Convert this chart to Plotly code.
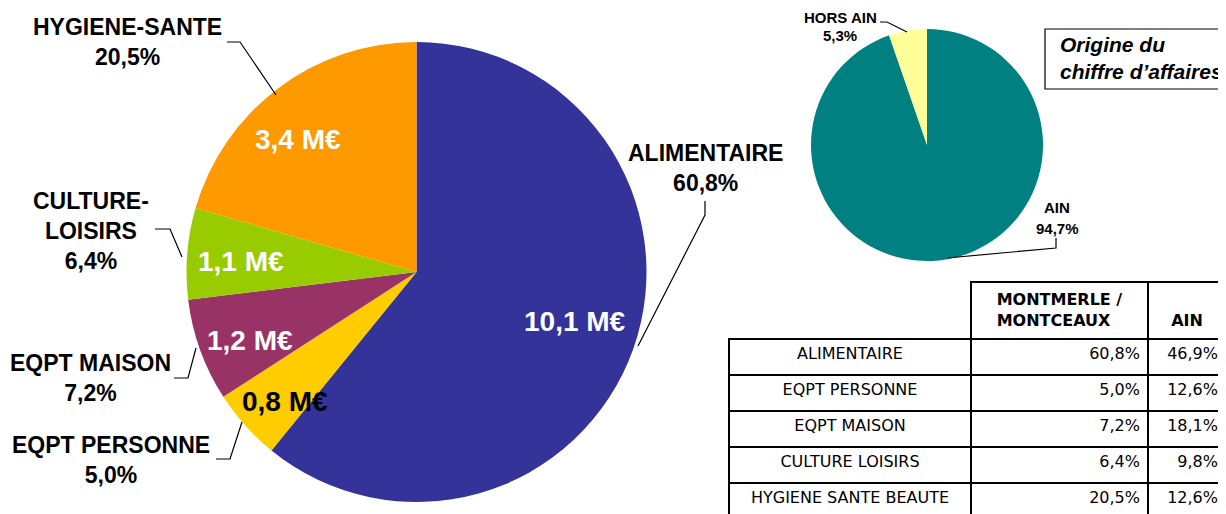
import plotly.graph_objects as go

# The page adds an 8 px body margin, so the figure is drawn 8 px smaller
# and all reference-pixel positions are shifted by OFF.
OFF = 8
W, H = 1226 - OFF, 514 - OFF

# ---------------- data ----------------
categories = ["ALIMENTAIRE", "EQPT PERSONNE", "EQPT MAISON", "CULTURE-LOISIRS", "HYGIENE-SANTE"]
outer_names = ["ALIMENTAIRE", "EQPT PERSONNE", "EQPT MAISON", "CULTURE-<br>LOISIRS", "HYGIENE-SANTE"]
shares = [60.8, 5.0, 7.2, 6.4, 20.5]
amounts_meur = [10.1, 0.8, 1.2, 1.1, 3.4]

origin_labels = ["AIN", "HORS AIN"]
origin_shares = [94.7, 5.3]

table_rows = ["ALIMENTAIRE", "EQPT PERSONNE", "EQPT MAISON", "CULTURE LOISIRS", "HYGIENE SANTE BEAUTE"]
table_local = [60.8, 5.0, 7.2, 6.4, 20.5]
table_ain = [46.9, 12.6, 18.1, 9.8, 12.6]
table_headers = ["", "<b>MONTMERLE /<br>MONTCEAUX</b>", "\u00a0<br><b>AIN</b>"]

box_title = "Origine du<br>chiffre d’affaires"

# ---------------- styles ----------------
slice_colors = ["#333399", "#FFCC00", "#993366", "#99CC00", "#FF9900"]
amount_font_colors = ["white", "black", "white", "white", "white"]
origin_colors = ["#008080", "#FFFF99"]

# label placement (pixel positions in the reference picture)
outer_pos = [(705, 168), (111, 460), (90, 378), (91, 231), (127, 42)]
inner_pos = [(575, 321), (285, 401), (250, 340), (241, 261), (298, 139)]
leaders = [
    [(705, 201), (705, 215), (638, 346)],
    [(216, 459), (230, 459), (242, 422)],
    [(174, 378), (188, 378), (196, 348)],
    [(155, 229), (170, 229), (182, 257)],
    [(227, 42), (240, 42), (276, 95)],
]
# (x, name line y, percent line y)
origin_pos = [(1057, 208, 229), (840, 18, 35)]
origin_leaders = [
    [(1056, 238), (1056, 248), (947, 258)],
    [(880, 22), (887, 22), (907, 32)],
]


def px(x):
    return (x - OFF) / W


def py(y):
    return 1 - (y - OFF) / H


def fr(v, d=1):
    return f"{v:.{d}f}".replace(".", ",")


def path(pts):
    s = "M {} {}".format(px(pts[0][0]), py(pts[0][1]))
    for x, y in pts[1:]:
        s += " L {} {}".format(px(x), py(y))
    return s


LBL_FONT = "Liberation Sans, Arial, sans-serif"
BODY_FONT = "DejaVu Sans, Verdana, sans-serif"

fig = go.Figure()

# main pie
cx, cy, r = 416.5, 272, 230
fig.add_trace(go.Pie(
    labels=categories, values=shares, sort=False, direction="clockwise", rotation=0,
    marker=dict(colors=slice_colors, line=dict(width=0)),
    textinfo="none", hoverinfo="skip", showlegend=False,
    domain=dict(x=[px(cx - r), px(cx + r)], y=[py(cy + r), py(cy - r)]),
))

# origin pie
ocx, ocy, orr = 927, 145, 116
fig.add_trace(go.Pie(
    labels=origin_labels, values=origin_shares, sort=False, direction="clockwise", rotation=0,
    marker=dict(colors=origin_colors, line=dict(width=0)),
    textinfo="none", hoverinfo="skip", showlegend=False,
    domain=dict(x=[px(ocx - orr), px(ocx + orr)], y=[py(ocy + orr), py(ocy - orr)]),
))

# table
fig.add_trace(go.Table(
    domain=dict(x=[px(729), 1.0], y=[0.0, py(282)]),
    columnwidth=[242, 177, 78],
    header=dict(
        values=table_headers,
        align=["center", "center", "center"],
        fill=dict(color="white"),
        line=dict(color=["white", "black", "black"], width=2),
        font=dict(family=BODY_FONT, size=16, color="black"),
        height=57,
    ),
    cells=dict(
        values=[table_rows, [fr(v) + "%" for v in table_local], [fr(v) + "%" for v in table_ain]],
        align=["center", "right", "right"],
        fill=dict(color="white"),
        line=dict(color="black", width=2),
        font=dict(family=BODY_FONT, size=16, color="black"),
        height=36,
    ),
))

annotations = []
shapes = []

for name, sh, (x, y) in zip(outer_names, shares, outer_pos):
    annotations.append(dict(
        x=px(x), y=py(y), xref="paper", yref="paper", showarrow=False,
        xanchor="center", yanchor="middle",
        text=f"<b>{name}<br>{fr(sh)}%</b>", align="center",
        font=dict(family=LBL_FONT, size=23, color="black"),
    ))

for amt, col, (x, y) in zip(amounts_meur, amount_font_colors, inner_pos):
    annotations.append(dict(
        x=px(x), y=py(y), xref="paper", yref="paper", showarrow=False,
        xanchor="center", yanchor="middle",
        text=f"<b>{fr(amt)} M€</b>",
        font=dict(family=LBL_FONT, size=28, color=col),
    ))

for name, sh, (x, y1, y2) in zip(origin_labels, origin_shares, origin_pos):
    for txt, yy in ((name, y1), (f"{fr(sh)}%", y2)):
        annotations.append(dict(
            x=px(x), y=py(yy), xref="paper", yref="paper", showarrow=False,
            xanchor="center", yanchor="middle", borderpad=0,
            text=f"<b>{txt}</b>", align="center",
            font=dict(family=LBL_FONT, size=15, color="black"),
        ))

for pts in leaders + origin_leaders:
    shapes.append(dict(type="path", xref="paper", yref="paper", path=path(pts),
                       line=dict(color="black", width=1.2)))

# top border of the first body cell (header cell above it has no frame)
shapes.append(dict(type="line", xref="paper", yref="paper", layer="above",
                   x0=px(728), x1=px(972), y0=py(339), y1=py(339),
                   line=dict(color="black", width=2)))

# title box
shapes.append(dict(type="rect", xref="paper", yref="paper",
                   x0=px(1045), x1=px(1245), y0=py(29), y1=py(89),
                   line=dict(color="black", width=1.2), fillcolor="rgba(0,0,0,0)"))
annotations.append(dict(
    x=px(1058), y=py(58), xref="paper", yref="paper", showarrow=False,
    xanchor="left", yanchor="middle", align="left",
    text=f"<b><i>{box_title}</i></b>",
    font=dict(family=LBL_FONT, size=21, color="black"),
))

fig.update_layout(
    width=W, height=H,
    margin=dict(l=0, r=0, t=0, b=0),
    paper_bgcolor="white", plot_bgcolor="white",
    annotations=annotations, shapes=shapes,
    showlegend=False,
)

fig.write_html("out.html")
